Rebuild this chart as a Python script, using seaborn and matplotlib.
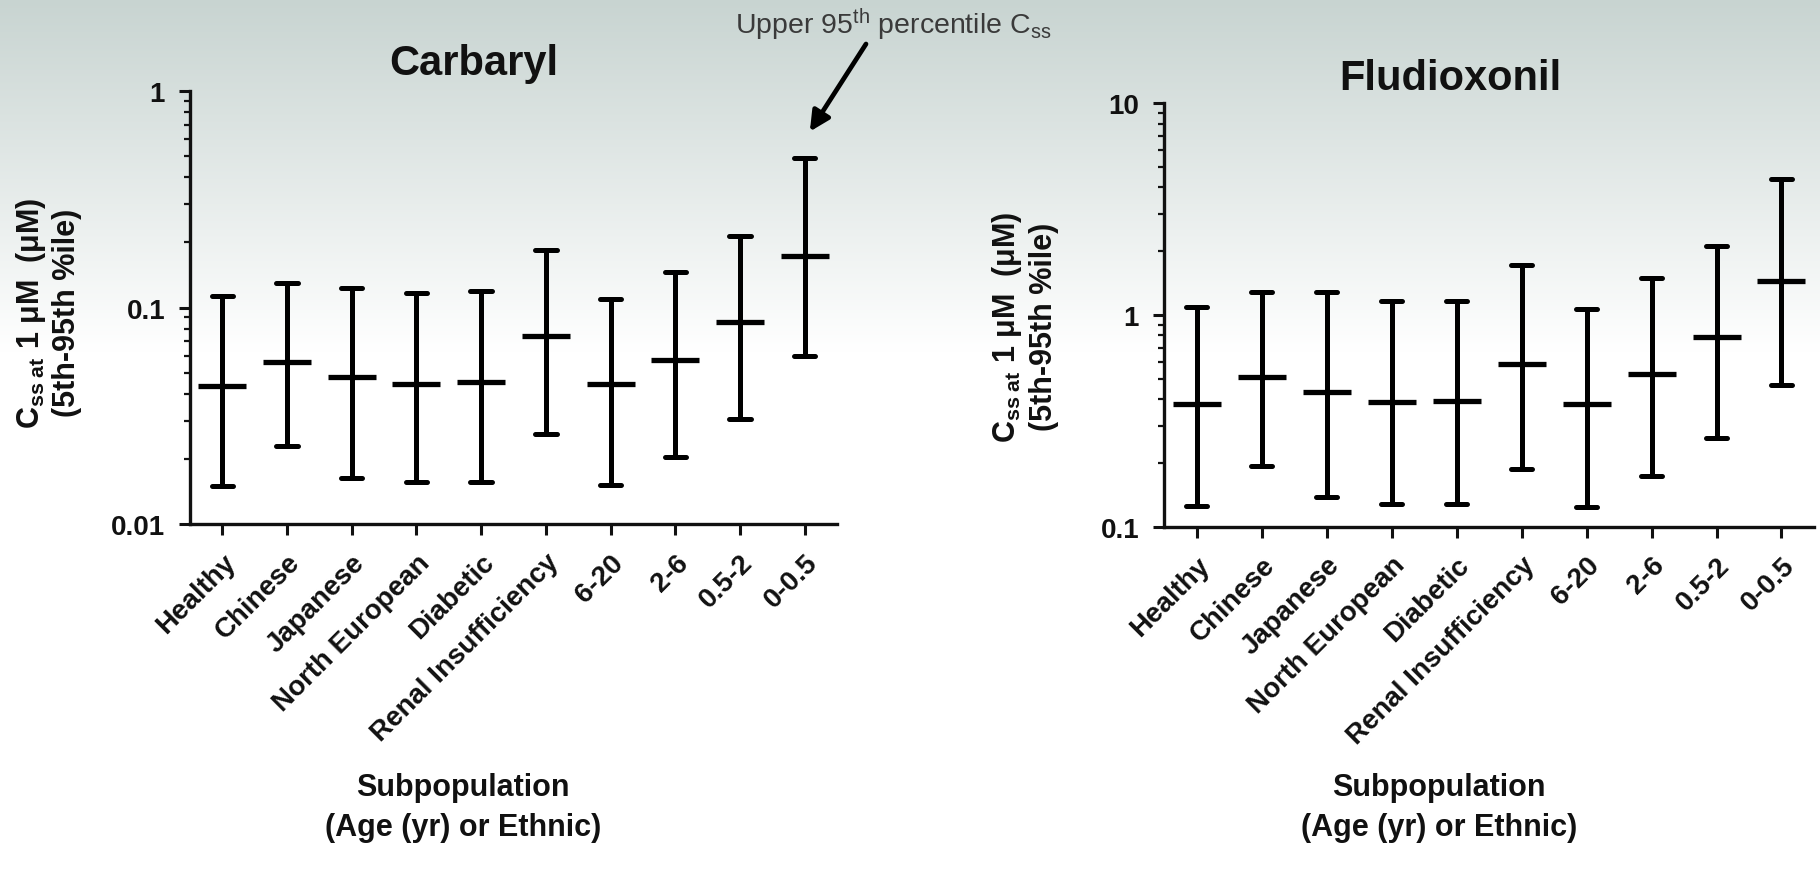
import numpy as np
import pandas as pd
import seaborn as sns
import matplotlib.pyplot as plt
from matplotlib.ticker import LogLocator, NullFormatter, FixedLocator

# subpopulations, in plotting order
categories = ["Healthy", "Chinese", "Japanese", "North European", "Diabetic",
              "Renal Insufficiency", "6-20", "2-6", "0.5-2", "0-0.5"]

# Css at 1 uM (uM): 5th, 50th, 95th percentiles
carbaryl_p5 = [0.0150, 0.0230, 0.0164, 0.0156, 0.0156, 0.0260, 0.0151, 0.0205, 0.0305, 0.0595]
carbaryl_p50 = [0.0435, 0.0562, 0.0476, 0.0443, 0.0451, 0.0736, 0.0443, 0.0572, 0.0855, 0.1735]
carbaryl_p95 = [0.1135, 0.130, 0.1227, 0.1163, 0.1188, 0.185, 0.1095, 0.1454, 0.213, 0.490]

fludioxonil_p5 = [0.1256, 0.194, 0.1375, 0.128, 0.1275, 0.187, 0.1233, 0.1726, 0.261, 0.466]
fludioxonil_p50 = [0.379, 0.507, 0.430, 0.386, 0.394, 0.586, 0.379, 0.526, 0.783, 1.44]
fludioxonil_p95 = [1.09, 1.277, 1.277, 1.158, 1.16, 1.725, 1.064, 1.493, 2.12, 4.38]


def long_frame(p5, p50, p95) -> pd.DataFrame:
    rows = []
    for c, a, b, d in zip(categories, p5, p50, p95):
        rows += [(c, "p5", a), (c, "p50", b), (c, "p95", d)]
    return pd.DataFrame(rows, columns=["group", "stat", "value"])


def pct_range(v):
    return v.min(), v.max()


sns.set_theme(style="ticks")
plt.rcParams["font.family"] = ["Liberation Sans", "DejaVu Sans"]
plt.rcParams["mathtext.fontset"] = "custom"
plt.rcParams["mathtext.rm"] = "Liberation Sans"
plt.rcParams["mathtext.bf"] = "Liberation Sans:bold"
plt.rcParams["mathtext.it"] = "Liberation Sans:italic"

fig = plt.figure(figsize=(18.2, 8.79), dpi=100)

# soft grey-teal gradient behind everything
bg = fig.add_axes([0, 0, 1, 1], zorder=-1)
h = 400
fade = np.clip(np.linspace(0, 1, h) / 0.4, 0, 1)[:, None]
top = np.array([200, 212, 209]) / 255.0
grad = top[None, None, :] * (1 - fade[..., None]) + fade[..., None]
bg.imshow(grad, aspect="auto", extent=[0, 1, 0, 1], origin="upper")
bg.axis("off")

ax1 = fig.add_axes([0.1044, 0.4027, 0.3555, 0.4926])
ax2 = fig.add_axes([0.6396, 0.3997, 0.3571, 0.4820])

panels = [
    (ax1, long_frame(carbaryl_p5, carbaryl_p50, carbaryl_p95), "Carbaryl",
     (0.01, 1), [0.01, 0.1, 1], ["0.01", "0.1", "1"], 0.439, 0.422, 12, -0.573),
    (ax2, long_frame(fludioxonil_p5, fludioxonil_p50, fludioxonil_p95), "Fludioxonil",
     (0.1, 10), [0.1, 1, 10], ["0.1", "1", "10"], 0.44, 0.423, 10, -0.579),
]

for ax, df, title, ylim, yt, ytl, tx, xx, tpad, xl_y in panels:
    ax.set_facecolor("none")
    ax.set_yscale("log")
    sns.pointplot(
        data=df, x="group", y="value", order=categories,
        estimator="median", errorbar=pct_range,
        color="black", linestyle="none", marker="_",
        markersize=35, markeredgewidth=3.8,
        capsize=0.33, err_kws={"linewidth": 3.6},
        ax=ax,
    )
    ax.set_ylim(*ylim)
    ax.set_xlim(-0.5, len(categories) - 0.5)
    ax.yaxis.set_major_locator(FixedLocator(yt))
    ax.set_yticklabels(ytl)
    ax.yaxis.set_minor_locator(LogLocator(base=10, subs=np.arange(2, 10)))
    ax.yaxis.set_minor_formatter(NullFormatter())
    ax.set_xticks(range(len(categories)))
    ax.set_xticklabels(categories, rotation=45, ha="right", va="top",
                       rotation_mode="anchor")
    for lbl in ax.get_xticklabels() + ax.get_yticklabels():
        lbl.set_fontweight("bold")
        lbl.set_fontsize(20)
        lbl.set_color("#111111")
    ax.tick_params(axis="both", which="major", direction="out", length=8,
                   width=2.2, color="#111111", pad=10)
    ax.tick_params(axis="y", which="minor", direction="out", length=4,
                   width=1.6, color="#111111")
    sns.despine(ax=ax)
    for s in ("left", "bottom"):
        ax.spines[s].set_linewidth(2.4)
        ax.spines[s].set_color("#111111")
    ax.set_title(title, fontsize=30, fontweight="bold", x=tx, pad=tpad,
                 color="#111111")
    ax.set_xlabel("Subpopulation\n(Age (yr) or Ethnic)", fontsize=22,
                  fontweight="bold", color="#111111", linespacing=1.45)
    ax.xaxis.set_label_coords(xx, xl_y)
    ax.set_ylabel("")

ylab = "C$_{\\mathbf{ss\\ at}}$ 1 μM  (μM)\n(5th-95th %ile)"
fig.text(0.0264, 0.644, ylab, rotation=90, ha="center", va="center",
         fontsize=22, fontweight="bold", color="#111111", linespacing=1.2,
         multialignment="center")
fig.text(0.563, 0.628, ylab, rotation=90, ha="center", va="center",
         fontsize=22, fontweight="bold", color="#111111", linespacing=1.2,
         multialignment="center")

# pointer at the top whisker of the youngest group
ax1.annotate("", xy=(9.08, 0.65), xycoords="data",
             xytext=(866 / 1820, 1 - 45 / 879), textcoords="figure fraction",
             arrowprops=dict(arrowstyle="-|>", lw=3.4, color="black",
                             mutation_scale=30, shrinkA=0, shrinkB=0))
fig.text(893 / 1820, 1 - 25 / 879,
         "Upper 95$^{\\mathrm{th}}$ percentile C$_{\\mathrm{ss}}$",
         ha="center", va="center", fontsize=20.5, color="#3a3a3a")

fig.savefig("out.png", dpi=100)
